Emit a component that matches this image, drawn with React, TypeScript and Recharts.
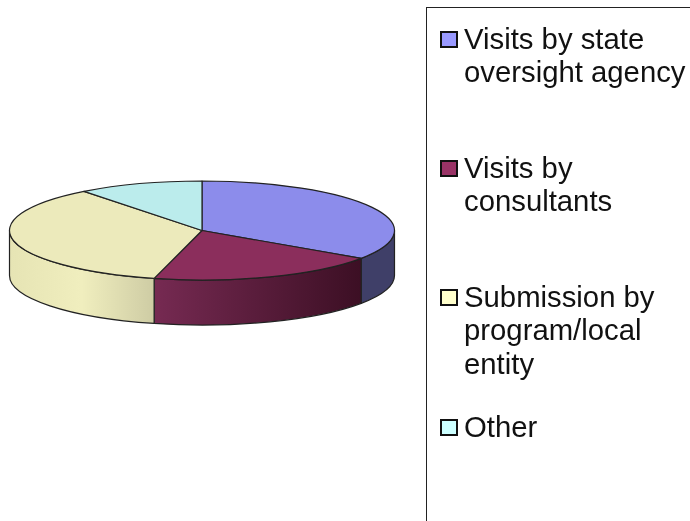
import React from "react";
import { PieChart, Pie, Cell, Legend } from "recharts";

const categories = [
  "Visits by state\noversight agency",
  "Visits by\nconsultants",
  "Submission by\nprogram/local\nentity",
  "Other",
];
const shares = [34.5, 19.5, 35.5, 10.5];
const topColors = ["#8C8CEB", "#8B2E5C", "#ECEABB", "#BBECEC"];
const legendColors = ["#9999FF", "#993366", "#FFFFCC", "#CCFFFF"];
const wallStops: string[][] = [
  ["#3F3F68", "#3F3F68"],
  ["#762A52", "#3C0F24"],
  ["#E6E4B4", "#F0EEBE", "#CECCA4"],
  ["#8AB0B0", "#8AB0B0"],
];
const legendTops = [21.5, 150.5, 279.5, 409.5];

const chartData = categories.map((name, i) => ({ name, value: shares[i] }));
const TILT = 49.5 / 192.5;
const DEPTH = 45;
const rad = Math.PI / 180;

function EllipseSlice(props: any) {
  const { cx, cy, outerRadius, startAngle, endAngle, fill, name } = props;
  const idx = categories.indexOf(name);
  const rx = outerRadius;
  const ry = outerRadius * TILT;
  const px = (a: number) => cx + rx * Math.cos(a * rad);
  const py = (a: number) => cy - ry * Math.sin(a * rad);
  const hi = Math.max(startAngle, endAngle);
  const lo = Math.min(startAngle, endAngle);
  const large = hi - lo > 180 ? 1 : 0;
  const top = `M${cx},${cy} L${px(hi)},${py(hi)} A${rx},${ry} 0 ${large} 1 ${px(lo)},${py(lo)} Z`;
  const wHi = Math.min(hi, 0);
  const wLo = Math.max(lo, -180);
  const hasWall = wHi > wLo;
  const gid = `wall-${idx}`;
  const wall = hasWall
    ? `M${px(wHi)},${py(wHi)} A${rx},${ry} 0 0 1 ${px(wLo)},${py(wLo)} L${px(wLo)},${py(wLo) + DEPTH} A${rx},${ry} 0 0 0 ${px(wHi)},${py(wHi) + DEPTH} Z`
    : "";
  const stops = wallStops[idx] || ["#888", "#888"];
  return (
    <g>
      {hasWall && (
        <>
          <defs>
            <linearGradient id={gid} gradientUnits="userSpaceOnUse" x1={px(wLo)} x2={px(wHi)} y1={0} y2={0}>
              {stops.map((c, i) => (
                <stop key={i} offset={i / (stops.length - 1)} stopColor={c} />
              ))}
            </linearGradient>
          </defs>
          <path d={wall} fill={`url(#${gid})`} stroke="#222" strokeWidth={1.2} strokeLinejoin="round" />
        </>
      )}
      <path d={top} fill={fill} stroke="#222" strokeWidth={1.2} strokeLinejoin="round" />
    </g>
  );
}

function BoxLegend(props: any) {
  const items = props.payload || [];
  return (
    <div style={{ position: "absolute", left: 0, top: 0, width: 690, height: 521, overflow: "hidden", fontFamily: "'Liberation Sans', Arial, sans-serif", fontSize: 29.3, lineHeight: "33.5px", color: "#111" }}>
      <div style={{ position: "absolute", left: 425.5, top: 7, width: 300, height: 560, border: "1.5px solid #222", boxSizing: "border-box" }} />
      {items.map((it: any, i: number) => (
        <React.Fragment key={i}>
          <div style={{ position: "absolute", left: 440, top: legendTops[i] + 9, width: 17.5, height: 17.5, boxSizing: "border-box", border: "2.5px solid #111", background: legendColors[i] }} />
          <div style={{ position: "absolute", left: 464, top: legendTops[i], whiteSpace: "pre" }}>{it.value}</div>
        </React.Fragment>
      ))}
    </div>
  );
}

export default function App() {
  return (
    <div style={{ position: "absolute", left: 0, top: 0, width: 690, height: 521, overflow: "hidden", background: "#fff", filter: "blur(0.45px)" }}>
      <PieChart width={690} height={521} margin={{ top: 0, right: 0, bottom: 0, left: 0 }}>
        <Pie
          data={chartData}
          dataKey="value"
          nameKey="name"
          cx={202}
          cy={230.5}
          outerRadius={192.5}
          innerRadius={0}
          startAngle={90}
          endAngle={-270}
          stroke="none"
          isAnimationActive={false}
          shape={EllipseSlice}
          legendType="square"
        >
          {categories.map((c, i) => (
            <Cell key={c} fill={topColors[i]} />
          ))}
        </Pie>
        <Legend content={BoxLegend} itemSorter={null} layout="vertical" align="right" verticalAlign="top" wrapperStyle={{ position: "absolute", left: 0, top: 0, width: 690, height: 521 }} />
      </PieChart>
    </div>
  );
}
